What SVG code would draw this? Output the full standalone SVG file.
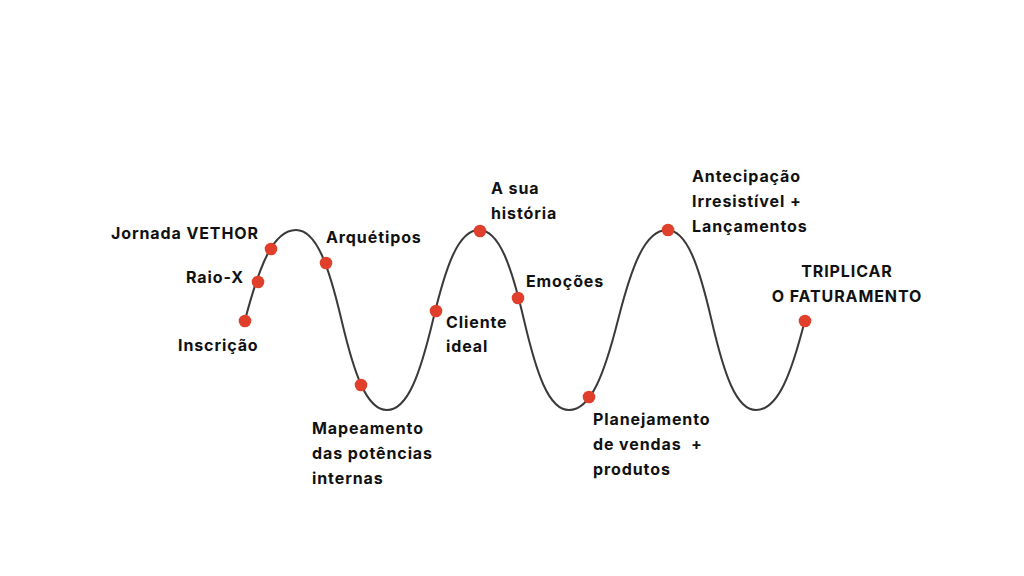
<svg xmlns="http://www.w3.org/2000/svg" width="1024" height="576" viewBox="0 0 1024 576">
<style>
.lbl{font-family:Inter,"Noto Sans","Liberation Sans",sans-serif;font-weight:700;font-size:16px;fill:#111;letter-spacing:0.9px}
.dot{fill:#E0402B}
.wave{fill:none;stroke:#3a3a3a;stroke-width:2;stroke-linecap:round}
</style>
<rect width="1024" height="576" fill="#fff"/>
<g id="connectors">
<path class="wave" d="M245,320 C259.3,266 273.05,230 296,230 C316.5,230 328.8,266 341.5,320 C354.2,374 366.5,410 387,410 C407.7,410 420.1,374 433,320 C445.9,266 458.3,230 479,230 C499.25,230 511.4,266 524,320 C536.6,374 548.75,410 569,410 C591,410 604.3,374 618,320 C631.7,266 645,230 667,230 C687,230 699,266 711.5,320 C724,374 736,410 756,410 C778,410 791.3,374 805,320"/>
</g>
<g id="n-inscricao"><circle class="dot" cx="245" cy="321" r="6.3"/><text class="lbl" x="178" y="351">Inscrição</text></g>
<g id="n-raiox"><circle class="dot" cx="258" cy="282" r="6.3"/><text class="lbl" x="186" y="283">Raio-X</text></g>
<g id="n-jornada"><circle class="dot" cx="271" cy="249" r="6.3"/><text class="lbl" x="111" y="239">Jornada VETHOR</text></g>
<g id="n-arquetipos"><circle class="dot" cx="326" cy="263" r="6.3"/><text class="lbl" x="326" y="243">Arquétipos</text></g>
<g id="n-mapeamento"><circle class="dot" cx="361" cy="385" r="6.3"/><text class="lbl" x="312" y="434"><tspan x="312">Mapeamento</tspan><tspan x="312" dy="25">das potências</tspan><tspan x="312" dy="25">internas</tspan></text></g>
<g id="n-cliente"><circle class="dot" cx="436" cy="311" r="6.3"/><text class="lbl" x="446" y="328"><tspan x="446">Cliente</tspan><tspan x="446" dy="24">ideal</tspan></text></g>
<g id="n-historia"><circle class="dot" cx="480" cy="231" r="6.3"/><text class="lbl" x="491" y="194"><tspan x="491">A sua</tspan><tspan x="491" dy="24.5">história</tspan></text></g>
<g id="n-emocoes"><circle class="dot" cx="518" cy="298" r="6.3"/><text class="lbl" x="526" y="287">Emoções</text></g>
<g id="n-planejamento"><circle class="dot" cx="589" cy="397" r="6.3"/><text class="lbl" x="593" y="425"><tspan x="593">Planejamento</tspan><tspan x="593" dy="25" xml:space="preserve">de vendas  +</tspan><tspan x="593" dy="25">produtos</tspan></text></g>
<g id="n-antecipacao"><circle class="dot" cx="668" cy="230" r="6.3"/><text class="lbl" x="692" y="182"><tspan x="692">Antecipação</tspan><tspan x="692" dy="25">Irresistível +</tspan><tspan x="692" dy="25">Lançamentos</tspan></text></g>
<g id="n-triplicar"><circle class="dot" cx="805" cy="321" r="6.3"/><text class="lbl" text-anchor="middle" x="847" y="277"><tspan x="847">TRIPLICAR</tspan><tspan x="847" dy="24.5">O FATURAMENTO</tspan></text></g>
</svg>
